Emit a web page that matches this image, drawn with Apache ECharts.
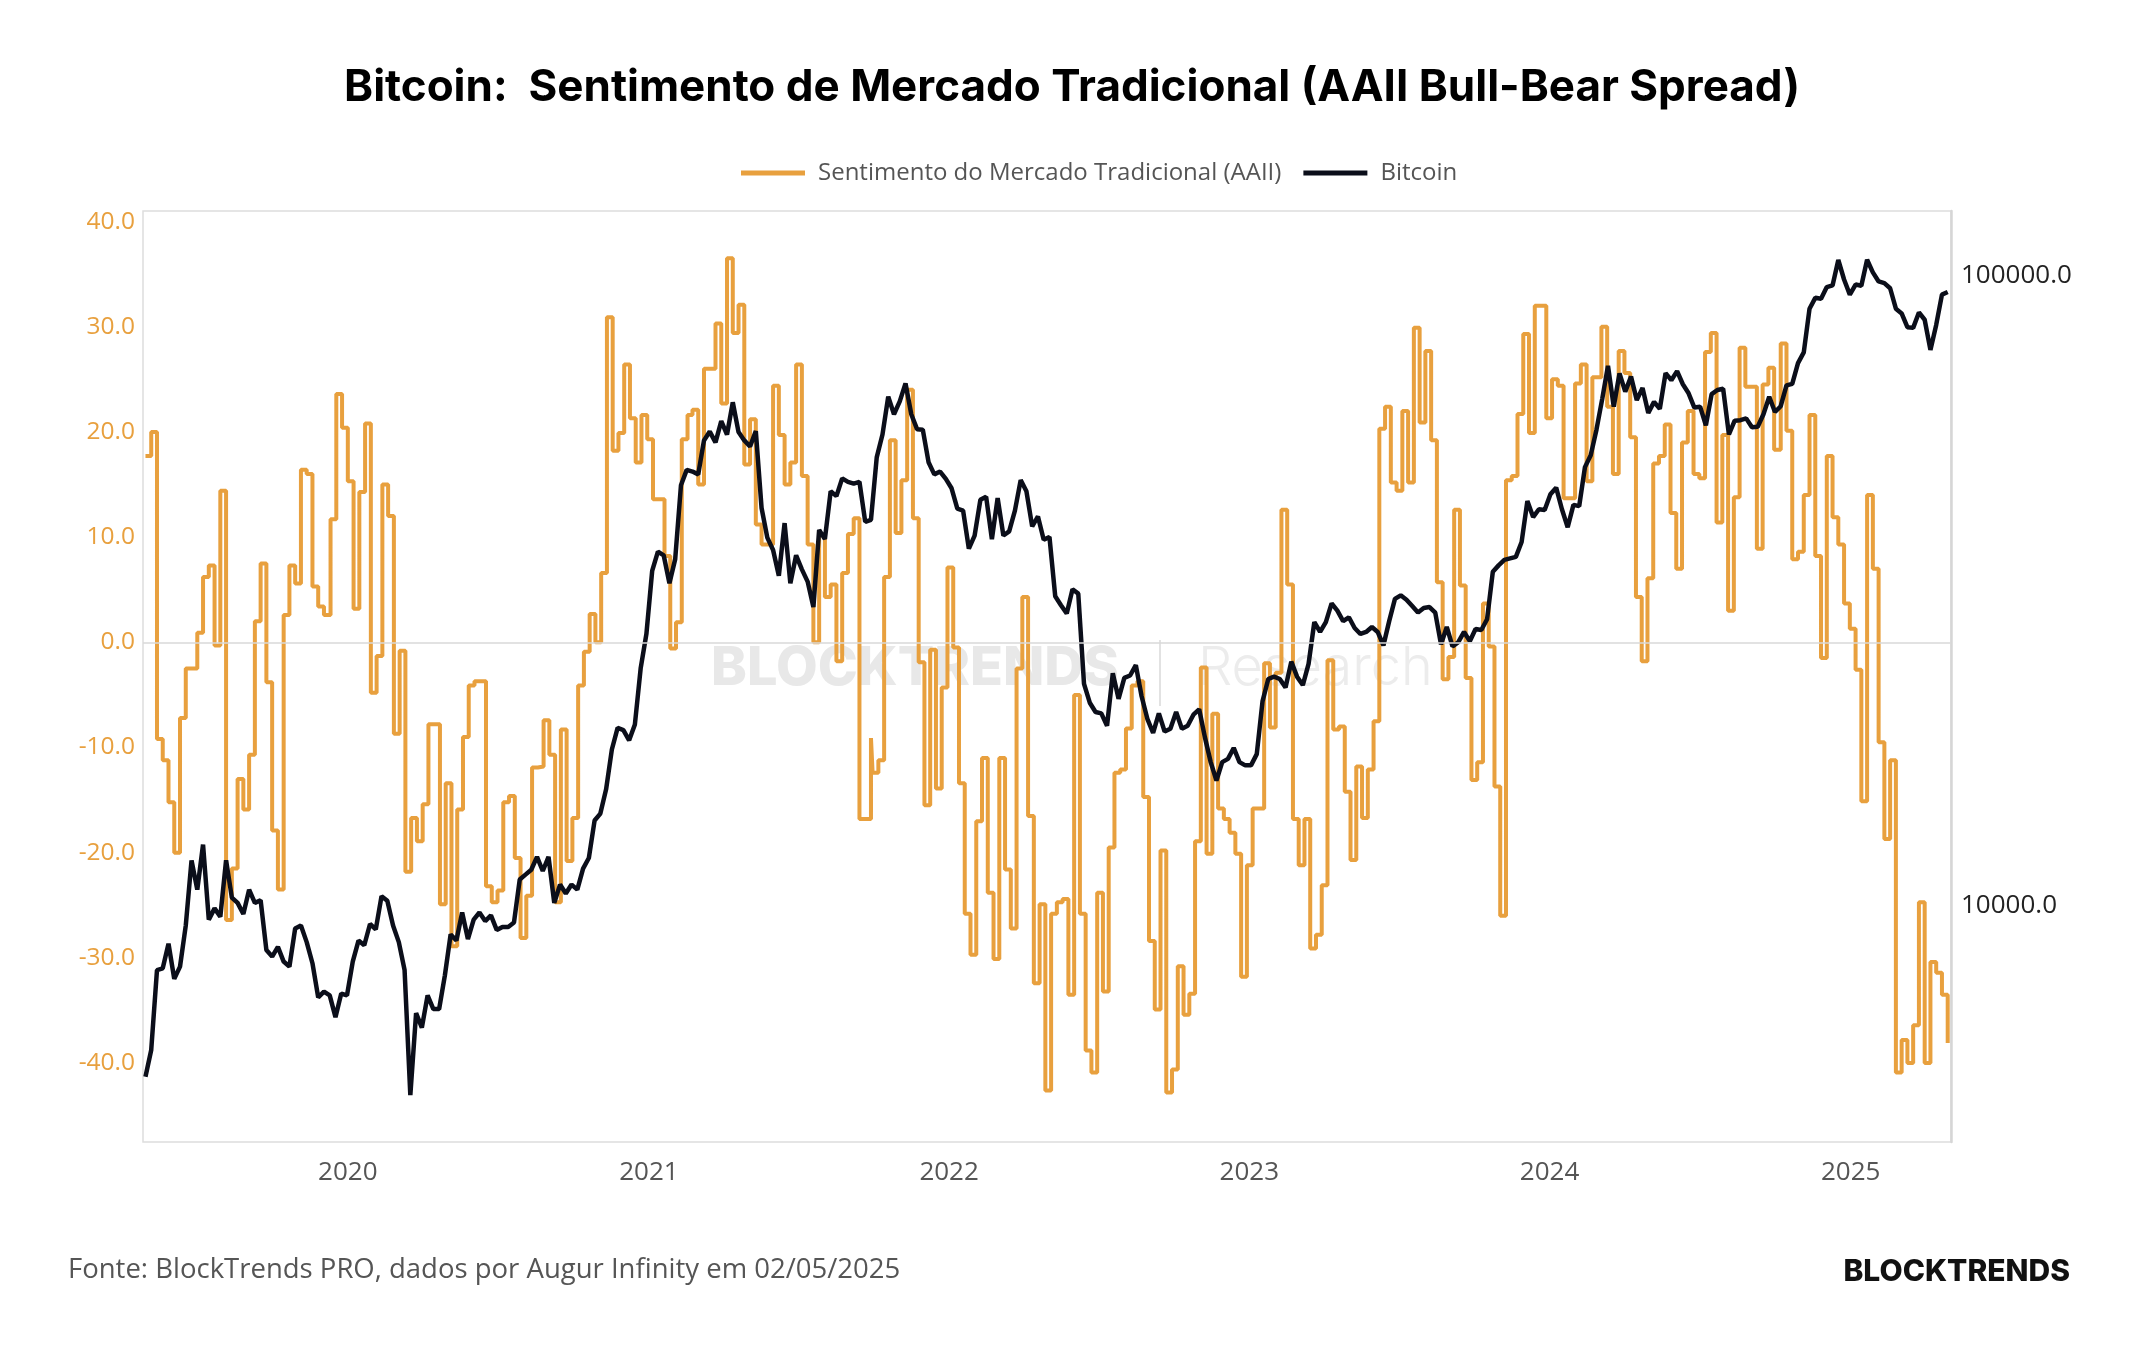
<!DOCTYPE html>
<html>
<head>
<meta charset="utf-8">
<title>Bitcoin: Sentimento de Mercado Tradicional (AAII Bull-Bear Spread)</title>
<script src="https://cdn.jsdelivr.net/npm/echarts@6/dist/echarts.min.js"></script>
<style>
  html, body { margin: 0; padding: 0; background: #fff; }
  #chart { width: 2144px; height: 1350px; }
</style>
</head>
<body>
<div id="chart"></div>
<script>
// AAII bull-bear spread (weekly)
const aaiiBlockStarts = ['2019-04-30', '2019-12-11', '2020-07-22', '2021-02-23', '2021-09-30',
                         '2022-05-12', '2022-12-15', '2023-07-27', '2024-03-04', '2024-10-08'];
const aaiiBlock1 = [17.7, 20.0, -9.2, -11.2, -15.2, -20.0, -7.2, -2.5, -2.5, 0.9, 6.2, 7.3, -0.3, 14.4, -26.4, -21.5,
                    -13.0, -15.9, -10.7, 2.0, 7.5, -3.8, -17.9, -23.5, 2.6, 7.3, 5.6, 16.4, 16.0, 5.3, 3.4, 2.6];
const aaiiBlock2 = [11.7, 23.6, 20.4, 15.3, 3.2, 14.3, 20.8, -4.8, -1.3, 15.0, 12.0, -8.7, -0.8, -21.8, -16.7, -18.9,
                    -15.4, -7.8, -7.8, -24.9, -13.4, -28.9, -15.9, -9.0, -4.1, -3.7, -3.7, -23.2, -24.7, -23.6, -15.2, -14.6];
const aaiiBlock3 = [-20.5, -28.1, -24.1, -11.9, -11.8, -7.4, -10.7, -24.7, -8.3, -20.8, -16.7, -4.1, -0.9, 2.7, 0.0, 6.6,
                    30.9, 18.2, 19.9, 26.4, 21.3, 17.1, 21.6, 19.3, 13.6, 13.6, 8.2, -0.6, 1.9, 19.3, 21.6];
const aaiiBlock4 = [22.1, 15.0, 26.0, 26.0, 30.3, 22.7, 36.5, 29.4, 32.1, 16.9, 21.2, 11.2, 9.3, 9.3, 24.4, 19.7,
                    15.0, 17.1, 26.4, 15.8, 9.3, 0.0, 10.2, 4.3, 5.5, -1.8, 6.6, 10.3, 11.8, -16.8, -16.8, -9.1];
const aaiiBlock5 = [-12.4, -11.2, 6.2, 19.2, 10.4, 15.4, 24.0, 11.8, -1.9, -15.5, -0.7, -13.9, -4.3, 7.1, -0.5, -13.4,
                    -25.8, -29.7, -17.0, -11.0, -23.8, -30.1, -11.0, -21.6, -27.2, -2.5, 4.3, -16.5, -32.4, -24.9, -42.6, -25.8];
const aaiiBlock6 = [-24.7, -24.4, -33.5, -5.0, -25.8, -38.8, -40.9, -23.8, -33.2, -19.5, -12.4, -12.1, -8.2, -4.1, -3.7, -14.7,
                    -28.4, -34.9, -19.8, -42.8, -40.6, -30.8, -35.4, -33.4, -18.9, -2.4, -20.1, -6.8, -15.8, -16.8, -18.1];
const aaiiBlock7 = [-20.1, -31.8, -21.2, -15.8, -15.8, -2.0, -8.1, -2.9, 12.6, 5.5, -16.8, -21.2, -16.8, -29.1, -27.8, -23.1,
                    -1.7, -8.3, -8.0, -14.2, -20.7, -11.8, -16.7, -12.1, -7.5, 20.3, 22.4, 15.2, 14.4, 22.0, 15.2, 29.9];
const aaiiBlock8 = [20.9, 27.7, 19.2, 5.7, -3.5, -1.4, 12.6, 5.4, -3.4, -13.1, -11.4, 3.7, -0.4, -13.7, -26.0, 15.4,
                    15.8, 21.7, 29.3, 19.9, 32.0, 32.0, 21.3, 25.0, 24.4, 13.7, 13.7, 24.6, 26.4, 15.3, 25.2];
const aaiiBlock9 = [30.0, 22.4, 16.0, 27.7, 25.6, 19.5, 4.3, -1.8, 6.1, 17.0, 17.7, 20.7, 12.3, 7.0, 19.0, 22.0,
                    16.0, 15.6, 27.6, 29.4, 11.4, 19.7, 3.0, 13.8, 28.0, 24.3, 24.3, 8.9, 24.5, 26.1, 18.3];
const aaiiBlock10 = [28.4, 20.1, 7.9, 8.6, 14.0, 21.6, 8.2, -1.5, 17.7, 11.9, 9.3, 3.7, 1.3, -2.6, -15.1, 14.0,
                     7.0, -9.5, -18.7, -11.2, -40.9, -37.8, -40.0, -36.4, -24.7, -40.0, -30.4, -31.4, -33.5, -38.1];
const aaiiBlocks = [aaiiBlock1, aaiiBlock2, aaiiBlock3, aaiiBlock4, aaiiBlock5,
                    aaiiBlock6, aaiiBlock7, aaiiBlock8, aaiiBlock9, aaiiBlock10];

// Bitcoin (USD), weekly from 2019-04-30
const btcStart = '2019-04-30';
const btc2019 = [5350, 5900, 7900, 7950, 8700, 7650, 8000, 9300, 11800, 10600, 12500, 9500, 9900, 9600, 11800, 10300,
                 10100, 9700, 10600, 10100, 10200, 8500, 8300, 8600, 8150, 8000, 9200, 9300, 8750, 8100, 7150, 7300,
                 7200, 6650, 7250, 7200];
const btc2020 = [8150, 8800, 8650, 9350, 9170, 10350, 10180, 9300, 8750, 7900, 5000, 6750, 6400, 7200, 6850, 6850,
                 7750, 9000, 8800, 9750, 8850, 9500, 9750, 9450, 9650, 9150, 9250, 9250, 9400, 11000, 11200, 11400,
                 11950, 11350, 11950, 10100, 10800, 10450, 10800, 10600, 11450, 11900, 13650, 14000, 15300, 17700, 19150, 19000,
                 18300, 19400, 23800, 27000];
const btc2021 = [34000, 36500, 36000, 32500, 35500, 46500, 49200, 48900, 48400, 54800, 56600, 54400, 58800, 56000, 63000, 56500,
                 54800, 53600, 56700, 42800, 38400, 36700, 33400, 40500, 32500, 36000, 34200, 32700, 29800, 39500, 38200, 45500,
                 44700, 47700, 47100, 46800, 47100, 40700, 41000, 51500, 56000, 64300, 60300, 63200, 67500, 60300, 57100, 57000,
                 50600, 48400, 48900, 47600];
const btc2022 = [46000, 42700, 42400, 36900, 38700, 44100, 44600, 38200, 44400, 38700, 39300, 42400, 47400, 45500, 40000, 41500,
                 38100, 38500, 31000, 30000, 29100, 31800, 31300, 22500, 21000, 20300, 20200, 19300, 23400, 21300, 23000, 23200,
                 24100, 21500, 19800, 18800, 20200, 18900, 19100, 20300, 19100, 19300, 20100, 20500, 18500, 16900, 15800, 16900,
                 17100, 17800, 16900, 16700];
const btc2023 = [16700, 17400, 21100, 22900, 23100, 22900, 22200, 24400, 23100, 22400, 24200, 28200, 27200, 28200, 30200, 29400,
                 28300, 28700, 27600, 27000, 27200, 27700, 27200, 25900, 28300, 30700, 31100, 30600, 29900, 29200, 29700, 29800,
                 29200, 26000, 27700, 25800, 26200, 27200, 26300, 27500, 27400, 28500, 33900, 34700, 35400, 35600, 35800, 37800,
                 43900, 41400, 42600, 42500];
const btc2024 = [45000, 46100, 42600, 39900, 43300, 43100, 49700, 51900, 57000, 63800, 72000, 62000, 70000, 65500, 69200, 63500,
                 66400, 60600, 63100, 61500, 70100, 68300, 70600, 67300, 65100, 61800, 62000, 57900, 64900, 65900, 66200, 56000,
                 58900, 59000, 59400, 57500, 57600, 60300, 64300, 60800, 62100, 67000, 67400, 72700, 75600, 88700, 92300, 92000,
                 96000, 96600, 106000, 98700, 93400];
const btc2025 = [96900, 96500, 106100, 101300, 98000, 97400, 95600, 88700, 87200, 82900, 82700, 87500, 85200, 76300, 83600, 93400,
                 94300];

const yearLabels = [2020, 2021, 2022, 2023, 2024, 2025];
const leftTicks = [-40, -30, -20, -10, 0, 10, 20, 30, 40];

const DAY = 86400000;
const utc = s => Date.parse(s + 'T00:00:00Z');

function weekly(start, values) {
    const t0 = utc(start);
    return values.map((v, i) => [t0 + i * 7 * DAY, v]);
}

const aaiiData = aaiiBlocks.flatMap((block, i) => weekly(aaiiBlockStarts[i], block));
const btcData = weekly(btcStart, [].concat(btc2019, btc2020, btc2021, btc2022, btc2023, btc2024, btc2025));

const ORANGE = '#E8A03E';
const LABEL_FONT = '"Open Sans", "Noto Sans", sans-serif';

const chart = echarts.init(document.getElementById('chart'));

chart.setOption({
    useUTC: true,
    backgroundColor: '#ffffff',
    animation: false,
    title: {
        text: 'Bitcoin:  Sentimento de Mercado Tradicional (AAII Bull-Bear Spread)',
        left: 'center',
        top: 61,
        textStyle: { fontFamily: 'Inter, sans-serif', fontSize: 44, fontWeight: 700, color: '#000' }
    },
    legend: {
        top: 156,
        left: 736,
        icon: 'rect',
        itemWidth: 64,
        itemHeight: 5,
        itemGap: 22,
        textStyle: { fontFamily: LABEL_FONT, fontSize: 24, color: '#555', padding: [0, 0, 0, 8] },
        data: ['Sentimento do Mercado Tradicional (AAII)', 'Bitcoin']
    },
    grid: {
        left: 143,
        right: 193,
        top: 211,
        bottom: 208,
        show: true,
        borderColor: '#dddddd',
        borderWidth: 1.5
    },
    xAxis: {
        type: 'time',
        min: utc('2019-04-27'),
        max: utc('2025-05-03'),
        minInterval: 365 * DAY,
        axisLine: { show: false },
        axisTick: { show: false },
        splitLine: { show: false },
        axisLabel: {
            margin: 18,
            showMinLabel: false,
            showMaxLabel: false,
            fontFamily: LABEL_FONT,
            fontSize: 26,
            color: '#555',
            formatter: v => {
                const d = new Date(v);
                const y = d.getUTCFullYear();
                return (d.getUTCMonth() === 0 && d.getUTCDate() === 1 && yearLabels.includes(y)) ? String(y) : '';
            }
        }
    },
    yAxis: [
        {
            type: 'value',
            position: 'left',
            min: -47.5,
            max: 41,
            interval: 2.5,
            axisLine: { show: false },
            axisTick: { show: false },
            splitLine: { show: false },
            axisLabel: {
                margin: 8,
                fontFamily: LABEL_FONT,
                fontSize: 24.5,
                color: ORANGE,
                formatter: v => {
                    const r = Math.round(v);
                    return (Math.abs(r - v) < 1e-6 && leftTicks.includes(r)) ? r.toFixed(1) : '';
                }
            }
        },
        {
            type: 'log',
            logBase: 10,
            position: 'right',
            min: 4213,
            max: 126800,
            axisLine: { show: true, lineStyle: { color: '#d6d6d6', width: 2.5 } },
            axisTick: { show: false },
            splitLine: { show: false },
            axisLabel: {
                margin: 10,
                showMinLabel: false,
                showMaxLabel: false,
                fontFamily: LABEL_FONT,
                fontSize: 26,
                color: '#222',
                padding: [4, 0, 0, 0],
                formatter: v => {
                    const e = Math.log10(v);
                    return Math.abs(e - Math.round(e)) < 1e-6 ? Math.pow(10, Math.round(e)).toFixed(1) : '';
                }
            }
        }
    ],
    graphic: [
        {
            type: 'text', left: 711, top: 642, z: 0, silent: true,
            style: { text: 'BLOCKTRENDS', fill: '#e8e8e8', font: '800 54px Inter, sans-serif' }
        },
        {
            type: 'line', z: 0, silent: true,
            shape: { x1: 1160, y1: 640, x2: 1160, y2: 706 },
            style: { stroke: '#e2e2e2', lineWidth: 2 }
        },
        {
            type: 'text', left: 1198, top: 642, z: 0, silent: true,
            style: { text: 'Research', fill: '#ececec', font: '300 54px Inter, sans-serif' }
        },
        {
            type: 'text', left: 68, top: 1256, silent: true,
            style: {
                text: 'Fonte: BlockTrends PRO, dados por Augur Infinity em 02/05/2025',
                fill: '#555', font: '27.5px "Open Sans", sans-serif'
            }
        },
        {
            type: 'text', right: 74, top: 1257, silent: true,
            style: { text: 'BLOCKTRENDS', fill: '#111', font: '800 30px Inter, sans-serif' }
        }
    ],
    series: [
        {
            name: 'Sentimento do Mercado Tradicional (AAII)',
            type: 'line',
            step: 'end',
            yAxisIndex: 0,
            showSymbol: false,
            symbol: 'none',
            color: ORANGE,
            lineStyle: { color: ORANGE, width: 4 },
            z: 2,
            data: aaiiData,
            markLine: {
                silent: true,
                symbol: 'none',
                label: { show: false },
                lineStyle: { color: '#d8d8d8', width: 1.5, type: 'solid' },
                data: [{ yAxis: 0 }]
            }
        },
        {
            name: 'Bitcoin',
            type: 'line',
            yAxisIndex: 1,
            showSymbol: false,
            symbol: 'none',
            color: '#0b0e1a',
            lineStyle: { color: '#0b0e1a', width: 4.5 },
            z: 3,
            data: btcData
        }
    ]
});

window.addEventListener('resize', () => chart.resize());
</script>
</body>
</html>
